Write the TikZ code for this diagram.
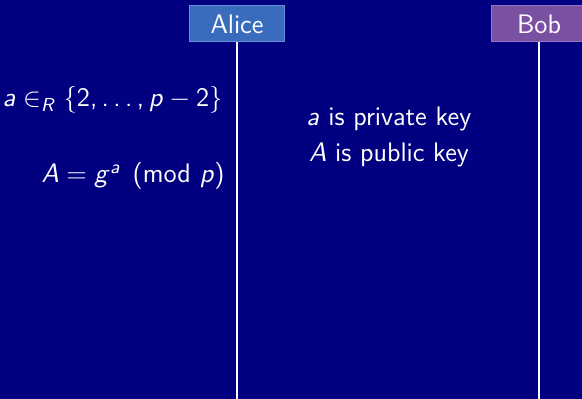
\RequirePackage{fix-cm}
\documentclass[tikz,border=0pt]{standalone}
\usepackage{amsmath}
\usepackage{xcolor}
\usepackage{tikz}

% sans serif maths, as on slides
\DeclareMathVersion{sans}
\SetSymbolFont{operators}{sans}{OT1}{cmss}{m}{n}
\SetSymbolFont{letters}{sans}{OT1}{cmss}{m}{it}
\SetMathAlphabet{\mathrm}{sans}{OT1}{cmss}{m}{n}
\DeclareMathSymbol{,}{\mathpunct}{operators}{"2C}
\DeclareMathSymbol{\ldotp}{\mathpunct}{operators}{"2E}
\renewcommand{\familydefault}{\sfdefault}

\definecolor{slidebg}{RGB}{0,0,128}
\definecolor{alicefill}{RGB}{58,108,190}
\definecolor{aliceline}{RGB}{105,140,212}
\definecolor{bobfill}{RGB}{122,80,162}
\definecolor{bobline}{RGB}{152,114,194}

\begin{document}
\mathversion{sans}
\begin{tikzpicture}[x=0.5pt,y=-0.5pt,
    every node/.style={text=white,font=\fontsize{13.4}{18}\selectfont},
    party/.style={draw,line width=0.5pt,minimum width=47.5pt,minimum height=18pt,inner sep=0pt},
    life/.style={draw=white,line width=1pt}]
    \useasboundingbox[fill=slidebg] (0,0) rectangle (582,399);
    \node[party,fill=alicefill,draw=aliceline] (alice) at (237,24) {Alice};
    \node[party,fill=bobfill,draw=bobline] (bob) at (539,24) {Bob};
    \coordinate (aliceend) at (237,399);
    \coordinate (bobend) at (539,399);
    \draw[life] (alice) -- (aliceend);
    \draw[life] (bob) -- (bobend);
    % Alice's side
    \node[anchor=base east,inner sep=0pt] (choose) at (223,107) {$a \in_R \{2,\dots,p-2\}$};
    \node[anchor=base east,inner sep=0pt] (pub) at (225,183) {$A = g^a \pmod p$};
    % remarks
    \node[anchor=base,inner sep=0pt] (privnote) at (389,126) {$a$ is private key};
    \node[anchor=base,inner sep=0pt] (pubnote) at (389,162) {$A$ is public key};
\end{tikzpicture}
\end{document}
